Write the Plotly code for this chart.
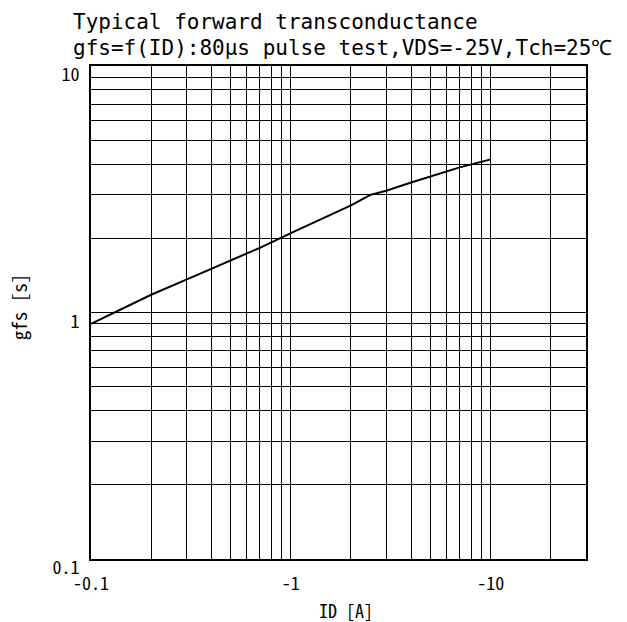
import numpy as np
import plotly.graph_objects as go

# ---- data ----
id_a = [-0.1, -0.2, -0.3, -0.5, -0.7, -1.0, -1.5, -2.0, -2.5, -3.0, -4.0, -5.0, -7.0, -10.0]
gfs = [0.90, 1.18, 1.36, 1.63, 1.83, 2.10, 2.45, 2.72, 3.00, 3.12, 3.37, 3.56, 3.88, 4.18]

x_tick_vals = [0.1, 1, 10]
x_tick_text = ["-0.1", "-1", "-10"]
y_tick_vals = [0.1, 1, 10]
y_tick_text = ["0.1", "1", "10"]
x_range = [0.1, 30]
y_range = [0.1, 10]

title_1 = "Typical forward transconductance"
title_2 = "gfs=f(ID):80μs pulse test,VDS=-25V,Tch=25℃"
x_title = "ID [A]"
y_title = "gfs [s]"

FONT = "Noto Sans Mono CJK JP, Noto Sans CJK JP, Liberation Mono, monospace"
TITLE_FONT = "DejaVu Sans Mono, Liberation Mono, monospace"


def minor_vals(lo, hi):
    vals = []
    for e in range(int(np.floor(np.log10(lo))), int(np.ceil(np.log10(hi))) + 1):
        for d in range(2, 10):
            v = d * 10.0 ** e
            if lo < v < hi:
                vals.append(v)
    return vals


fig = go.Figure()
fig.add_trace(go.Scatter(
    x=np.abs(id_a), y=gfs, mode="lines",
    line=dict(color="black", width=2), showlegend=False,
))

axis_common = dict(
    type="log",
    showgrid=True, gridcolor="black", gridwidth=1.3,
    showline=True, linecolor="black", linewidth=2, mirror=True,
    zeroline=False, ticks="",
    tickfont=dict(family=FONT, size=18, color="black"),
    tickmode="array",
)

fig.update_xaxes(
    **axis_common,
    range=[np.log10(x_range[0]), np.log10(x_range[1])],
    tickvals=x_tick_vals, ticktext=x_tick_text,
    minor=dict(tickmode="array", tickvals=minor_vals(*x_range), showgrid=True,
               gridcolor="black", gridwidth=1.3, ticks=""),
    ticklabelstandoff=7,
)
fig.update_yaxes(
    **axis_common,
    range=[np.log10(y_range[0]), np.log10(y_range[1])],
    tickvals=y_tick_vals, ticktext=y_tick_text,
    minor=dict(tickmode="array", tickvals=minor_vals(*y_range), showgrid=True,
               gridcolor="black", gridwidth=1.3, ticks=""),
    ticklabelstandoff=6, ticklabelshift=9,
)

annots = [
    dict(text=title_1, x=-0.040, y=1.089, xanchor="left", yanchor="middle",
         font=dict(family=TITLE_FONT, size=21, color="black")),
    dict(text=title_2, x=-0.040, y=1.0355, xanchor="left", yanchor="middle",
         font=dict(family=TITLE_FONT, size=21, color="black")),
    dict(text=x_title, x=0.515, y=-0.103, xanchor="center", yanchor="middle",
         font=dict(family=FONT, size=18, color="black")),
    dict(text=y_title, x=-0.147, y=0.511, xanchor="center", yanchor="middle",
         textangle=-90, font=dict(family=FONT, size=19, color="black")),
]
for a in annots:
    a.update(xref="paper", yref="paper", showarrow=False)

fig.update_layout(
    width=627, height=622,
    margin=dict(l=91, r=41, t=66, b=63),
    paper_bgcolor="white", plot_bgcolor="white",
    annotations=annots,
    showlegend=False,
)

fig.write_html("out.html")
